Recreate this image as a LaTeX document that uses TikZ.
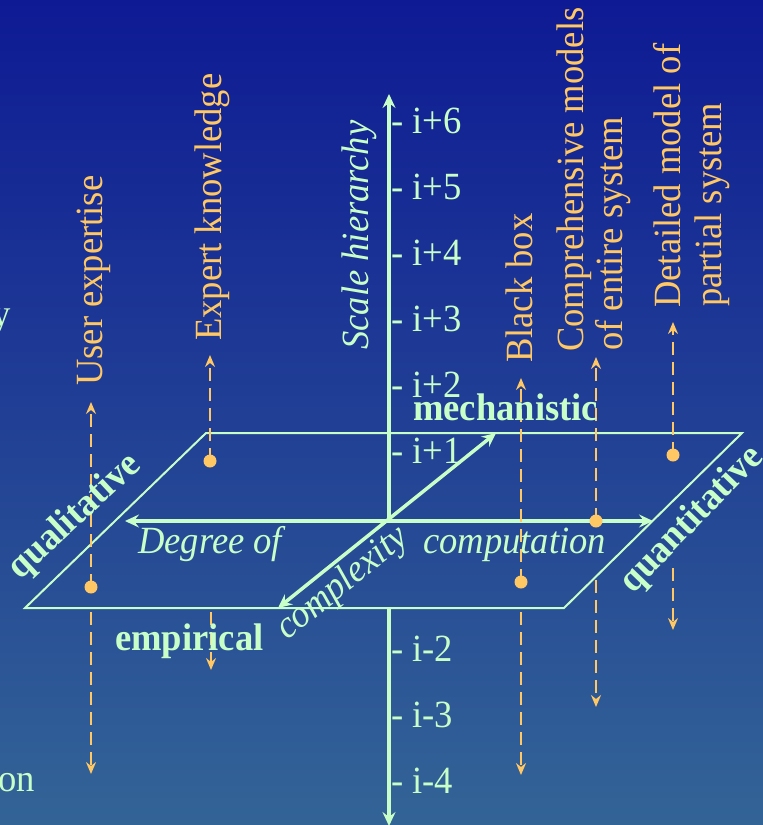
\documentclass[tikz,border=0pt]{standalone}
\usepackage{fontspec}
\setmainfont{Liberation Serif}[FakeStretch=0.95]
\usetikzlibrary{arrows.meta}
\definecolor{lg}{RGB}{200,255,200}
\definecolor{org}{RGB}{255,200,100}
\definecolor{bgtop}{RGB}{14,26,148}
\definecolor{bgmid}{RGB}{38,72,150}
\definecolor{bgbot}{RGB}{51,100,150}
\tikzset{
  txt/.style={inner sep=0pt, font=\fontsize{38.5}{40}\selectfont},
  gtxt/.style={txt, text=lg},
  otxt/.style={txt, text=org, rotate=90, anchor=base west},
  axisline/.style={draw=lg, line width=4pt},
  axarrow/.style={-{Stealth[length=14pt,width=13pt,inset=5pt]}},
  planeedge/.style={draw=lg, line width=2pt, line join=miter},
  odash/.style={draw=org, line width=2.2pt, dash pattern=on 13pt off 7pt},
  oarrow/.style={-{Stealth[length=12pt,width=10pt,inset=4pt]}},
  dot/.style={circle, fill=org, minimum size=13pt, inner sep=0pt},
  tick/.style={gtxt, anchor=base west},
}
\begin{document}
\begin{tikzpicture}[x=1pt,y=-1pt]
\begin{scope}[y=1pt]
\shade[top color=bgtop, middle color=bgmid, bottom color=bgbot] (0,-825) rectangle (763,0);
\end{scope}
\useasboundingbox (0,0) rectangle (763,825);

% coordinates
\coordinate (o) at (389,521);
\coordinate (vtop) at (389,94);
\coordinate (vmid) at (389,608);
\coordinate (vbot) at (389,826);
\coordinate (hl) at (125,521);
\coordinate (hr) at (653,521);
\coordinate (dlo) at (278,608);
\coordinate (dhi) at (496,433);
\coordinate (p1) at (25,608);
\coordinate (p2) at (206,433);
\coordinate (p3) at (742,433);
\coordinate (p4) at (564,608);

% plane
\draw[planeedge] (p1) -- (p2) -- (p3) -- (p4) -- cycle;

% vertical axis (hidden part behind plane)
\draw[axisline, line width=3.5pt, axarrow] (o) -- (vtop);
\draw[axisline, line width=3.5pt, axarrow] (vmid) -- (vbot);
% horizontal axis
\draw[axisline, {Stealth[length=14pt,width=13pt,inset=5pt]}-{Stealth[length=14pt,width=13pt,inset=5pt]}] (hl) -- (hr);
% depth axis
\draw[axisline, line width=3.5pt, {Stealth[length=14pt,width=13pt,inset=5pt]}-{Stealth[length=14pt,width=13pt,inset=5pt]}] (dlo) -- (dhi);

% orange dashed connectors
\node[dot] (d1) at (91,587) {};
\coordinate (u1) at (91,402);
\coordinate (s1) at (91,612);
\coordinate (e1) at (91,774);
\draw[odash, oarrow] (d1.center) -- (u1);
\draw[odash, oarrow] (s1) -- (e1);

\node[dot] (d2) at (210,461) {};
\coordinate (u2) at (210,355);
\coordinate (s2) at (211,612);
\coordinate (e2) at (211,670);
\draw[odash, oarrow] (d2.center) -- (u2);
\draw[odash, oarrow] (s2) -- (e2);

\node[dot] (d3) at (521,582) {};
\coordinate (u3) at (521,378);
\coordinate (s3) at (521,612);
\coordinate (e3) at (521,775);
\draw[odash, oarrow] (d3.center) -- (u3);
\draw[odash, oarrow] (s3) -- (e3);

\node[dot] (d4) at (596,521) {};
\coordinate (u4) at (596,357);
\coordinate (s4) at (596,580);
\coordinate (e4) at (596,707);
\draw[odash, oarrow] (d4.center) -- (u4);
\draw[odash, oarrow] (s4) -- (e4);

\node[dot] (d5) at (673,455) {};
\coordinate (u5) at (673,322);
\coordinate (s5) at (673,568);
\coordinate (e5) at (673,630);
\draw[odash, oarrow] (d5.center) -- (u5);
\draw[odash, oarrow] (s5) -- (e5);

% orange labels
\node[otxt] (l1) at (102,386) {User expertise};
\node[otxt] (l2) at (221,341) {Expert knowledge};
\node[otxt] (l3) at (532,363) {Black box};
\node[otxt] (l4a) at (583,352) {Comprehensive models};
\node[otxt] (l4b) at (622,351) {of entire system};
\node[otxt] (l5a) at (680,308) {Detailed model of};
\node[otxt] (l5b) at (721,307) {partial system};

% tick labels
\node[tick] (t6) at (391,133) {- i+6};
\node[tick] (t5) at (391,199) {- i+5};
\node[tick] (t4) at (391,265) {- i+4};
\node[tick] (t3) at (391,331) {- i+3};
\node[tick] (t2) at (391,397) {- i+2};
\node[tick] (t1) at (391,463) {- i+1};
\node[tick] (tm2) at (391,661) {- i-2};
\node[tick] (tm3) at (391,727) {- i-3};
\node[tick] (tm4) at (391,793) {- i-4};

% axis labels
\node[gtxt, rotate=90, anchor=base west, font=\fontsize{38.5}{40}\selectfont\itshape] (sh) at (368,350) {Scale hierarchy};
\node[gtxt, anchor=base west, font=\fontsize{38.5}{40}\selectfont\bfseries] (mech) at (413,420) {mechanistic};
\node[gtxt, anchor=base west, font=\fontsize{38.5}{40}\selectfont\bfseries] (emp) at (115,650) {empirical};
\node[gtxt, anchor=base west, font=\fontsize{38.5}{40}\selectfont\itshape] (deg) at (138,553) {Degree of};
\node[gtxt, anchor=base west, font=\fontsize{38.5}{40}\selectfont\itshape] (comp) at (423,553) {computation};
\node[gtxt, anchor=base west, rotate=38.9, font=\fontsize{38.5}{40}\selectfont\itshape] (cplx) at (287,641) {complexity};
\node[gtxt, rotate=43, font=\fontsize{38.5}{40}\selectfont\bfseries] (qual) at (75,517) {qualitative};
\node[gtxt, rotate=46, font=\fontsize{38.5}{40}\selectfont\bfseries] (quan) at (692,520) {quantitative};

% cut-off fragments at the left edge
\node[gtxt, anchor=base east] (fy) at (10.5,326) {y};
\node[gtxt, anchor=base east] (fon) at (35,791) {on};
\end{tikzpicture}
\end{document}
